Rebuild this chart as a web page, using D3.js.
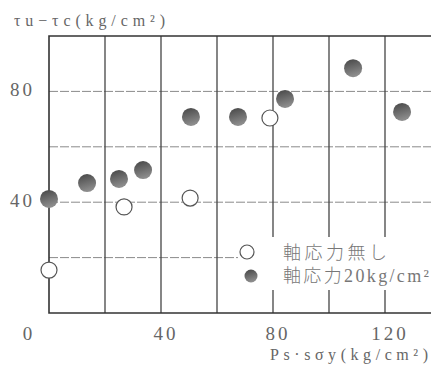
<!DOCTYPE html>
<html>
<head>
<meta charset="utf-8">
<script src="https://cdn.jsdelivr.net/npm/d3@7"></script>
<style>
  body { margin: 0; background: #fff; }
</style>
</head>
<body>
<div id="chart"></div>
<script>
// 軸応力無し (open circles)
const noAxialX = [0, 26.8, 50.4, 78.9];
const noAxialY = [15.5, 38.3, 41.5, 70.4];
// 軸応力20kg/cm2 (filled circles)
const axialX = [0, 13.6, 25, 33.6, 50.7, 67.5, 84.3, 108.6, 126.1];
const axialY = [41.2, 46.9, 48.4, 51.6, 70.8, 70.8, 77.3, 88.4, 72.6];

const xTicks = [0, 40, 80, 120];
const yTicks = [40, 80];
const xGrid = [20, 40, 60, 80, 100, 120];
const yGrid = [20, 40, 60, 80];
const legendLabels = ["軸応力無し", "軸応力20kg/cm²"];

const width = 431, height = 367;
const serif = "'Liberation Serif', 'DejaVu Serif', 'Noto Sans CJK JP', serif";

const x = d3.scaleLinear().domain([0, 140]).range([49, 441]);
const y = d3.scaleLinear().domain([0, 100]).range([313, 36]);

const svg = d3.select("#chart").append("svg")
  .attr("width", width)
  .attr("height", height)
  .attr("font-family", serif);

const grad = svg.append("defs").append("linearGradient")
  .attr("id", "dot").attr("x1", 0).attr("y1", 0).attr("x2", 0.3).attr("y2", 1);
grad.append("stop").attr("offset", "0%").attr("stop-color", "#444");
grad.append("stop").attr("offset", "100%").attr("stop-color", "#8c8c8c");

// legend position (break gridlines around it)
const lx = 247, ly = 252;

// horizontal dashed gridlines
svg.selectAll(".hgrid").data(yGrid).enter().append("line")
  .attr("x1", x(0)).attr("x2", (d) => d === 20 ? lx - 9 : width)
  .attr("y1", (d) => y(d)).attr("y2", (d) => y(d))
  .attr("stroke", "#8a8a8a").attr("stroke-width", 1)
  .attr("stroke-dasharray", "9 2");

// vertical gridlines
xGrid.forEach((v) => {
  if (x(v) > lx) {
    svg.append("line").attr("x1", x(v)).attr("x2", x(v))
      .attr("y1", y(100)).attr("y2", ly - 15)
      .attr("stroke", "#444").attr("stroke-width", 1.3);
    svg.append("line").attr("x1", x(v)).attr("x2", x(v))
      .attr("y1", ly + 38).attr("y2", y(0))
      .attr("stroke", "#444").attr("stroke-width", 1.3);
  } else {
    svg.append("line").attr("x1", x(v)).attr("x2", x(v))
      .attr("y1", y(100)).attr("y2", y(0))
      .attr("stroke", "#444").attr("stroke-width", 1.3);
  }
});

// frame
svg.append("path")
  .attr("d", `M${width},${y(100)}H${x(0)}V${y(0)}H${width}`)
  .attr("fill", "none").attr("stroke", "#333").attr("stroke-width", 1.6);

// tick labels
svg.selectAll(".xt").data(xTicks).enter().append("text")
  .attr("x", (d) => d === 0 ? x(d) - 20 : x(d) + 5)
  .attr("y", 340)
  .attr("text-anchor", "middle")
  .attr("font-size", 19)
  .attr("letter-spacing", 3)
  .attr("fill", "#666")
  .text((d) => d);

svg.selectAll(".yt").data(yTicks).enter().append("text")
  .attr("x", 35)
  .attr("y", (d) => y(d) + 5)
  .attr("text-anchor", "end")
  .attr("font-size", 19)
  .attr("letter-spacing", 3)
  .attr("fill", "#666")
  .text((d) => d);

// axis titles
svg.append("text")
  .attr("x", 14).attr("y", 26)
  .attr("font-size", 16)
  .attr("fill", "#666")
  .attr("textLength", 151).attr("lengthAdjust", "spacing")
  .text("τu−τc(kg/cm²)");

svg.append("text")
  .attr("x", 270).attr("y", 360)
  .attr("font-size", 16)
  .attr("fill", "#666")
  .attr("textLength", 158).attr("lengthAdjust", "spacing")
  .text("Ps·sσy(kg/cm²)");

// points
const open = noAxialX.map((d, i) => ({ x: d, y: noAxialY[i] }));
const filled = axialX.map((d, i) => ({ x: d, y: axialY[i] }));

svg.selectAll(".open").data(open).enter().append("circle")
  .attr("cx", (d) => x(d.x)).attr("cy", (d) => y(d.y))
  .attr("r", 8)
  .attr("fill", "#fff").attr("stroke", "#555").attr("stroke-width", 1.2);

svg.selectAll(".filled").data(filled).enter().append("circle")
  .attr("cx", (d) => x(d.x)).attr("cy", (d) => y(d.y))
  .attr("r", 9)
  .attr("fill", "url(#dot)");

// legend
const lg = svg.append("g");
lg.append("circle").attr("cx", lx).attr("cy", ly).attr("r", 7)
  .attr("fill", "#fff").attr("stroke", "#555").attr("stroke-width", 1.2);
lg.append("circle").attr("cx", lx + 4).attr("cy", ly + 24).attr("r", 6.5)
  .attr("fill", "url(#dot)");
lg.append("text").attr("x", 283).attr("y", ly + 7)
  .attr("font-size", 18).attr("fill", "#777").attr("font-weight", 300)
  .attr("textLength", 104).attr("lengthAdjust", "spacing")
  .text(legendLabels[0]);
lg.append("text").attr("x", 283).attr("y", ly + 30)
  .attr("font-size", 18).attr("fill", "#777").attr("font-weight", 300)
  .attr("textLength", 146).attr("lengthAdjust", "spacing")
  .text(legendLabels[1]);
</script>
</body>
</html>
